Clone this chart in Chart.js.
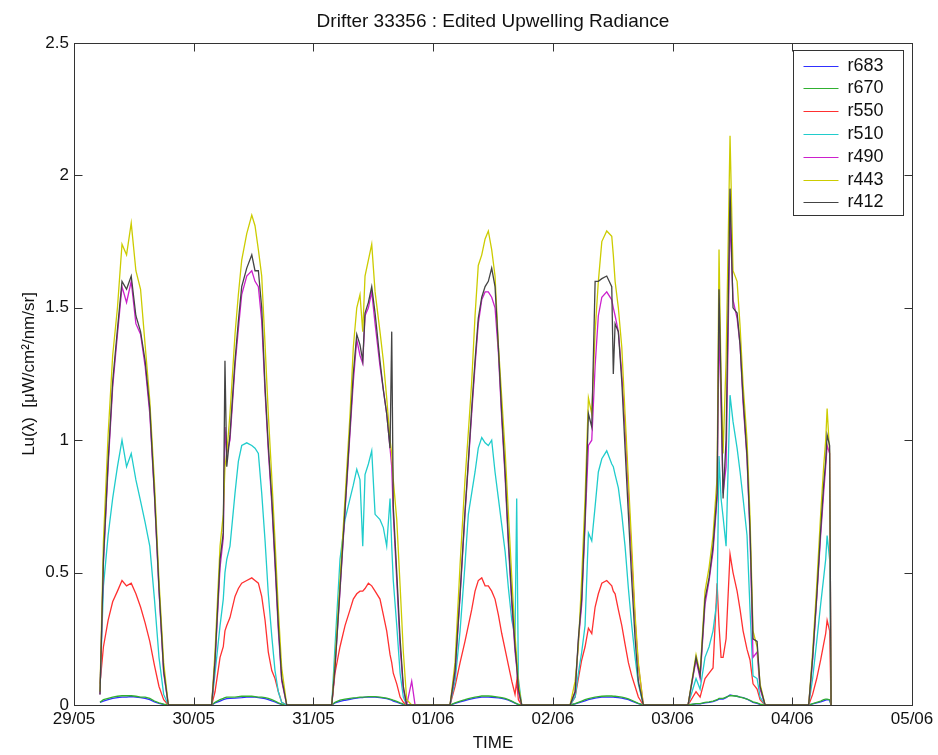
<!DOCTYPE html>
<html>
<head>
<meta charset="utf-8">
<script src="https://cdn.jsdelivr.net/npm/chart.js@4/dist/chart.umd.min.js"></script>
<style>
  html, body { margin: 0; padding: 0; background: #ffffff; }
  #contenedor { width: 938px; height: 755px; }
</style>
</head>
<body>
<div id="contenedor"><canvas id="grafica" width="938" height="755"></canvas></div>
<script>
// etiquetas del eje X (un tick por dia)
const etiquetasDias = ['29/05', '30/05', '31/05', '01/06', '02/06', '03/06', '04/06', '05/06'];

// tiempo en dias desde 29/05 00:00
const tiempo = [
    0.217, 0.246, 0.285, 0.323, 0.363, 0.401, 0.439, 0.478, 0.517, 0.556, 0.594, 0.633, 0.672, 0.710, 0.749, 0.788,
    1.150, 1.178, 1.220, 1.247, 1.261, 1.276, 1.303, 1.345, 1.373, 1.401, 1.443, 1.485, 1.512, 1.540, 1.568, 1.596, 1.623, 1.652, 1.679, 1.707, 1.735, 1.777,
    2.153, 2.180, 2.222, 2.264, 2.306, 2.333, 2.362, 2.389, 2.412, 2.431, 2.459, 2.487, 2.515, 2.556, 2.584, 2.612, 2.640, 2.654, 2.667, 2.696, 2.724, 2.751, 2.779, 2.821, 2.849,
    3.141, 3.183, 3.225, 3.266, 3.294, 3.322, 3.350, 3.377, 3.406, 3.434, 3.461, 3.489, 3.517, 3.545, 3.573, 3.601, 3.629, 3.657, 3.684, 3.698, 3.712, 3.740,
    4.144, 4.186, 4.213, 4.241, 4.269, 4.297, 4.325, 4.353, 4.380, 4.409, 4.450, 4.492, 4.505, 4.520, 4.547, 4.576, 4.603, 4.631, 4.659, 4.687, 4.714, 4.756,
    5.129, 5.196, 5.230, 5.271, 5.305, 5.338, 5.372, 5.388, 5.405, 5.422, 5.447, 5.480, 5.505, 5.539, 5.564, 5.589, 5.622, 5.647, 5.672, 5.706, 5.731, 5.773,
    6.137, 6.170, 6.204, 6.237, 6.262, 6.279, 6.291, 6.312, 6.324
];

const r683 = [
    0.01, 0.015, 0.02, 0.025, 0.028, 0.03, 0.03, 0.032, 0.03, 0.028, 0.025, 0.02, 0.012, 0.006, 0.002, 0,
    0, 0.008, 0.015, 0.02, 0.022, 0.024, 0.025, 0.026, 0.027, 0.028, 0.03, 0.03, 0.03, 0.028, 0.026, 0.024, 0.02, 0.016, 0.012, 0.006, 0.002, 0,
    0, 0.008, 0.014, 0.018, 0.021, 0.024, 0.026, 0.028, 0.028, 0.03, 0.03, 0.03, 0.03, 0.028, 0.026, 0.024, 0.02, 0.018, 0.015, 0.011, 0.006, 0.002, 0, 0, 0,
    0, 0.006, 0.012, 0.017, 0.02, 0.023, 0.026, 0.028, 0.03, 0.03, 0.03, 0.029, 0.028, 0.027, 0.025, 0.022, 0.018, 0.013, 0.007, 0.004, 0.002, 0,
    0, 0.004, 0.008, 0.012, 0.016, 0.02, 0.023, 0.026, 0.028, 0.03, 0.03, 0.03, 0.03, 0.029, 0.028, 0.026, 0.023, 0.02, 0.015, 0.01, 0.005, 0,
    0, 0.004, 0.004, 0.008, 0.01, 0.013, 0.018, 0.022, 0.022, 0.022, 0.028, 0.038, 0.035, 0.033, 0.03, 0.028, 0.022, 0.016, 0.01, 0.006, 0.002, 0,
    0, 0.004, 0.008, 0.012, 0.016, 0.018, 0.02, 0.018, 0
];

const r670 = [
    0.01, 0.02, 0.025, 0.03, 0.033, 0.035, 0.035, 0.035, 0.033, 0.03, 0.03, 0.025, 0.015, 0.008, 0.003, 0,
    0, 0.01, 0.02, 0.025, 0.028, 0.03, 0.03, 0.03, 0.032, 0.033, 0.033, 0.033, 0.032, 0.03, 0.03, 0.028, 0.025, 0.02, 0.015, 0.008, 0.003, 0,
    0, 0.01, 0.018, 0.022, 0.025, 0.027, 0.028, 0.03, 0.03, 0.03, 0.032, 0.032, 0.032, 0.03, 0.028, 0.026, 0.022, 0.02, 0.018, 0.014, 0.008, 0.003, 0, 0, 0,
    0, 0.008, 0.015, 0.02, 0.024, 0.027, 0.03, 0.032, 0.034, 0.034, 0.034, 0.033, 0.032, 0.03, 0.028, 0.025, 0.02, 0.015, 0.008, 0.005, 0.002, 0,
    0, 0.005, 0.01, 0.015, 0.02, 0.024, 0.027, 0.03, 0.032, 0.033, 0.034, 0.034, 0.033, 0.033, 0.032, 0.03, 0.027, 0.023, 0.018, 0.012, 0.006, 0,
    0, 0.005, 0.005, 0.01, 0.012, 0.015, 0.02, 0.025, 0.025, 0.025, 0.03, 0.035, 0.035, 0.033, 0.03, 0.027, 0.022, 0.018, 0.012, 0.008, 0.003, 0,
    0, 0.005, 0.01, 0.015, 0.02, 0.022, 0.022, 0.02, 0
];

const r550 = [
    0.08, 0.22, 0.32, 0.39, 0.43, 0.47, 0.45, 0.46, 0.42, 0.37, 0.31, 0.24, 0.15, 0.07, 0.02, 0,
    0, 0.05, 0.18, 0.22, 0.28, 0.30, 0.33, 0.41, 0.44, 0.46, 0.47, 0.48, 0.47, 0.46, 0.41, 0.32, 0.20, 0.13, 0.10, 0.05, 0.01, 0,
    0, 0.12, 0.22, 0.30, 0.36, 0.40, 0.42, 0.43, 0.43, 0.44, 0.46, 0.45, 0.43, 0.40, 0.34, 0.28, 0.19, 0.16, 0.12, 0.08, 0.03, 0.01, 0, 0, 0,
    0, 0.07, 0.16, 0.24, 0.30, 0.36, 0.43, 0.47, 0.48, 0.45, 0.45, 0.43, 0.40, 0.34, 0.27, 0.21, 0.15, 0.09, 0.04, 0.09, 0.02, 0,
    0, 0.03, 0.10, 0.17, 0.22, 0.29, 0.27, 0.37, 0.42, 0.46, 0.47, 0.45, 0.43, 0.42, 0.36, 0.30, 0.23, 0.16, 0.11, 0.07, 0.03, 0,
    0, 0.05, 0.03, 0.10, 0.12, 0.14, 0.46, 0.30, 0.18, 0.18, 0.25, 0.57, 0.50, 0.43, 0.36, 0.28, 0.21, 0.17, 0.08, 0.06, 0.02, 0,
    0, 0.04, 0.10, 0.17, 0.23, 0.27, 0.32, 0.28, 0
];

const r510 = [
    0.05, 0.45, 0.64, 0.78, 0.90, 1.00, 0.90, 0.95, 0.85, 0.77, 0.69, 0.60, 0.40, 0.18, 0.04, 0,
    0, 0.12, 0.30, 0.40, 0.50, 0.55, 0.60, 0.80, 0.92, 0.98, 0.99, 0.98, 0.97, 0.95, 0.80, 0.62, 0.42, 0.26, 0.13, 0.05, 0.01, 0,
    0, 0.22, 0.55, 0.70, 0.78, 0.83, 0.89, 0.85, 0.60, 0.87, 0.91, 0.96, 0.72, 0.70, 0.67, 0.60, 0.78, 0.60, 0.47, 0.30, 0.12, 0.03, 0, 0, 0,
    0, 0.09, 0.28, 0.53, 0.72, 0.80, 0.88, 0.97, 1.01, 0.99, 0.98, 1.00, 0.88, 0.78, 0.68, 0.58, 0.44, 0.32, 0.26, 0.78, 0.10, 0,
    0, 0.03, 0.12, 0.20, 0.30, 0.65, 0.62, 0.75, 0.88, 0.93, 0.96, 0.91, 0.90, 0.87, 0.82, 0.72, 0.60, 0.44, 0.30, 0.18, 0.08, 0,
    0, 0.10, 0.06, 0.18, 0.22, 0.28, 0.40, 0.94, 0.78, 0.71, 0.60, 1.17, 1.07, 0.97, 0.88, 0.78, 0.64, 0.36, 0.11, 0.10, 0.03, 0,
    0, 0.10, 0.24, 0.38, 0.48, 0.55, 0.64, 0.55, 0
];

const r490 = [
    0.04, 0.54, 0.90, 1.20, 1.40, 1.58, 1.52, 1.60, 1.44, 1.40, 1.28, 1.10, 0.79, 0.43, 0.12, 0,
    0, 0.16, 0.52, 0.63, 1.05, 0.95, 1.00, 1.28, 1.42, 1.55, 1.62, 1.64, 1.60, 1.58, 1.45, 1.18, 0.96, 0.76, 0.53, 0.28, 0.09, 0,
    0, 0.14, 0.43, 0.73, 1.03, 1.22, 1.38, 1.32, 1.29, 1.47, 1.50, 1.56, 1.44, 1.28, 1.19, 1.10, 0.97, 0.90, 0.72, 0.47, 0.22, 0.06, 0, 0.09, 0,
    0, 0.12, 0.41, 0.72, 0.91, 1.10, 1.28, 1.44, 1.53, 1.56, 1.56, 1.54, 1.50, 1.33, 1.08, 0.86, 0.60, 0.38, 0.20, 0.14, 0.05, 0,
    0, 0.05, 0.24, 0.38, 0.68, 0.98, 1.00, 1.28, 1.47, 1.54, 1.56, 1.53, 1.50, 1.47, 1.41, 1.25, 1.05, 0.80, 0.55, 0.32, 0.15, 0,
    0, 0.17, 0.10, 0.38, 0.47, 0.58, 0.78, 1.44, 1.13, 0.80, 0.90, 1.85, 1.53, 1.46, 1.36, 1.14, 0.93, 0.64, 0.18, 0.20, 0.06, 0,
    0, 0.17, 0.40, 0.64, 0.80, 0.90, 0.98, 0.95, 0
];

const r443 = [
    0.05, 0.62, 1.02, 1.32, 1.50, 1.74, 1.70, 1.82, 1.64, 1.57, 1.36, 1.15, 0.84, 0.47, 0.16, 0,
    0, 0.20, 0.60, 0.72, 0.90, 0.95, 1.10, 1.40, 1.55, 1.68, 1.78, 1.85, 1.81, 1.72, 1.62, 1.36, 1.10, 0.86, 0.62, 0.36, 0.14, 0,
    0, 0.16, 0.47, 0.78, 1.10, 1.35, 1.50, 1.55, 1.41, 1.62, 1.68, 1.74, 1.56, 1.41, 1.30, 1.16, 1.00, 0.95, 0.85, 0.70, 0.45, 0.20, 0.02, 0, 0,
    0, 0.16, 0.53, 0.85, 1.03, 1.22, 1.47, 1.66, 1.70, 1.76, 1.79, 1.72, 1.62, 1.36, 1.16, 0.96, 0.72, 0.48, 0.26, 0.18, 0.08, 0,
    0, 0.09, 0.22, 0.48, 0.78, 1.16, 1.10, 1.41, 1.60, 1.75, 1.79, 1.77, 1.70, 1.60, 1.50, 1.35, 1.10, 0.85, 0.60, 0.34, 0.16, 0,
    0, 0.19, 0.12, 0.43, 0.52, 0.64, 0.86, 1.72, 1.24, 0.95, 1.30, 2.15, 1.64, 1.60, 1.43, 1.21, 1.00, 0.71, 0.28, 0.22, 0.08, 0,
    0, 0.20, 0.45, 0.72, 0.90, 1.00, 1.12, 0.95, 0
];

const r412 = [
    0.04, 0.55, 0.92, 1.22, 1.42, 1.60, 1.57, 1.62, 1.47, 1.41, 1.30, 1.12, 0.80, 0.44, 0.13, 0,
    0, 0.17, 0.55, 0.65, 1.30, 0.90, 1.02, 1.30, 1.45, 1.58, 1.65, 1.70, 1.64, 1.64, 1.50, 1.20, 0.98, 0.78, 0.55, 0.30, 0.10, 0,
    0, 0.14, 0.44, 0.74, 1.05, 1.25, 1.40, 1.36, 1.30, 1.48, 1.52, 1.58, 1.48, 1.30, 1.19, 1.10, 0.97, 1.41, 0.75, 0.50, 0.25, 0.07, 0, 0, 0,
    0, 0.13, 0.42, 0.73, 0.92, 1.12, 1.30, 1.46, 1.54, 1.58, 1.60, 1.65, 1.58, 1.35, 1.10, 0.88, 0.62, 0.40, 0.22, 0.15, 0.06, 0,
    0, 0.05, 0.25, 0.40, 0.70, 1.10, 1.05, 1.60, 1.60, 1.61, 1.62, 1.58, 1.25, 1.44, 1.41, 1.22, 0.97, 0.72, 0.47, 0.25, 0.09, 0,
    0, 0.18, 0.11, 0.40, 0.48, 0.60, 0.80, 1.57, 1.21, 0.78, 1.00, 1.95, 1.50, 1.48, 1.36, 1.16, 0.94, 0.66, 0.25, 0.24, 0.07, 0,
    0, 0.18, 0.41, 0.66, 0.83, 0.92, 1.02, 0.98, 0
];

const nombresSeries = ['r683', 'r670', 'r550', 'r510', 'r490', 'r443', 'r412'];
const valoresSeries = [r683, r670, r550, r510, r490, r443, r412];
const coloresSeries = ['#3030ff', '#30b030', '#ff3030', '#20cccc', '#cc20cc', '#cccc00', '#444444'];

const fuente = "'Liberation Sans', Arial, Helvetica, sans-serif";

// marco tipo matlab: caja, ticks hacia adentro, titulo y leyenda
const marcoMatlab = {
    id: 'marcoMatlab',
    afterDraw(chart) {
        const { ctx, chartArea: a, scales } = chart;
        const L = Math.round(a.left) + 0.5, R = Math.round(a.right) + 0.5;
        const T = Math.round(a.top) + 0.5, B = Math.round(a.bottom) + 0.5;
        const largo = 8;
        ctx.save();
        ctx.strokeStyle = '#333333';
        ctx.lineWidth = 1;
        ctx.strokeRect(L, T, R - L, B - T);

        ctx.beginPath();
        scales.x.ticks.forEach(t => {
            const px = Math.round(scales.x.getPixelForValue(t.value)) + 0.5;
            ctx.moveTo(px, B); ctx.lineTo(px, B - largo);
            ctx.moveTo(px, T); ctx.lineTo(px, T + largo);
        });
        scales.y.ticks.forEach(t => {
            const py = Math.round(scales.y.getPixelForValue(t.value)) + 0.5;
            ctx.moveTo(L, py); ctx.lineTo(L + largo, py);
            ctx.moveTo(R, py); ctx.lineTo(R - largo, py);
        });
        ctx.stroke();

        // titulo centrado sobre el area de la grafica
        ctx.fillStyle = '#111111';
        ctx.font = '19px ' + fuente;
        ctx.textAlign = 'center';
        ctx.textBaseline = 'middle';
        ctx.fillText('Drifter 33356 : Edited Upwelling Radiance', (a.left + a.right) / 2, 22);

        // leyenda dentro de la caja, arriba a la derecha
        const cajaX = Math.round(a.right) - 119 + 0.5;
        const cajaY = Math.round(a.top) + 7 + 0.5;
        const cajaW = 110, cajaH = 165;
        ctx.fillStyle = '#ffffff';
        ctx.fillRect(cajaX, cajaY, cajaW, cajaH);
        ctx.strokeStyle = '#333333';
        ctx.strokeRect(cajaX, cajaY, cajaW, cajaH);
        ctx.font = '18px ' + fuente;
        ctx.textAlign = 'left';
        chart.data.datasets.forEach((ds, i) => {
            const fy = Math.round(cajaY + 15 + i * 22.8) + 0.5;
            ctx.strokeStyle = ds.borderColor;
            ctx.beginPath();
            ctx.moveTo(cajaX + 10, fy);
            ctx.lineTo(cajaX + 45, fy);
            ctx.stroke();
            ctx.fillStyle = '#111111';
            ctx.fillText(ds.label, cajaX + 54, fy);
        });
        ctx.restore();
    }
};

const datasets = nombresSeries.map((nombre, i) => ({
    label: nombre,
    data: tiempo.map((t, k) => ({ x: t, y: valoresSeries[i][k] })),
    borderColor: coloresSeries[i],
    backgroundColor: coloresSeries[i],
    borderWidth: 1.3,
    pointRadius: 0,
    tension: 0,
    fill: false,
    order: nombresSeries.length - 1 - i
}));

new Chart(document.getElementById('grafica'), {
    type: 'line',
    data: { datasets },
    options: {
        responsive: false,
        animation: false,
        devicePixelRatio: 1,
        layout: { padding: { top: 43, right: 26, left: 0, bottom: 0 } },
        plugins: {
            legend: { display: false },
            title: { display: false },
            tooltip: { enabled: false }
        },
        scales: {
            x: {
                type: 'linear',
                min: 0,
                max: 7,
                grid: { display: false, drawTicks: false },
                border: { display: false },
                ticks: {
                    stepSize: 1,
                    padding: 4,
                    color: '#111111',
                    font: { family: fuente, size: 17 },
                    maxRotation: 0,
                    callback: (valor) => etiquetasDias[valor]
                },
                title: {
                    display: true,
                    text: 'TIME',
                    color: '#111111',
                    font: { family: fuente, size: 17 },
                    padding: { top: 0, bottom: 1 }
                },
                afterFit: (escala) => { escala.height = 50; }
            },
            y: {
                min: 0,
                max: 2.5,
                grid: { display: false, drawTicks: false },
                border: { display: false },
                ticks: {
                    stepSize: 0.5,
                    padding: 5,
                    color: '#111111',
                    font: { family: fuente, size: 17 },
                    callback: (valor) => String(valor)
                },
                title: {
                    display: true,
                    text: 'Lu(λ)  [μW/cm²/nm/sr]',
                    color: '#111111',
                    font: { family: fuente, size: 17 },
                    padding: { top: 19, bottom: 0 }
                },
                afterFit: (escala) => { escala.width = 74; }
            }
        }
    },
    plugins: [marcoMatlab]
});
</script>
</body>
</html>
